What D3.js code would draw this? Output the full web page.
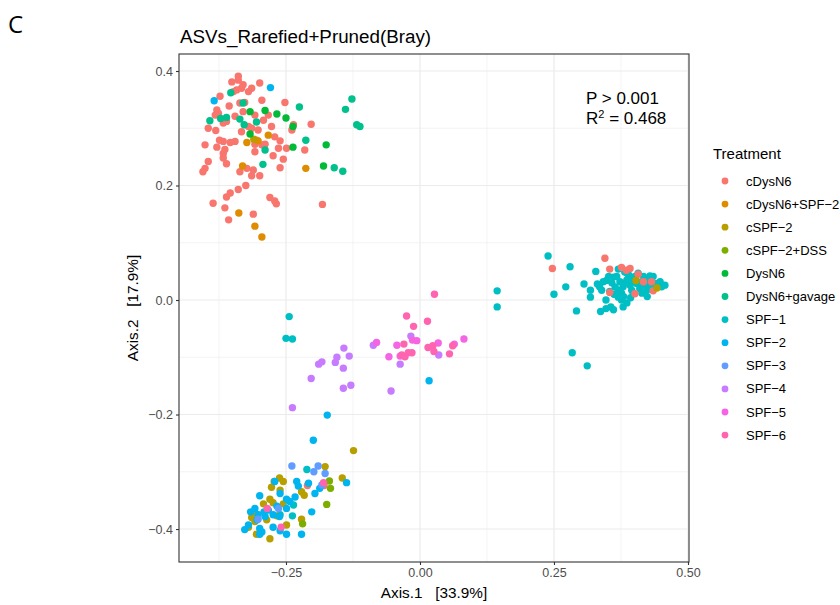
<!DOCTYPE html>
<html>
<head>
<meta charset="utf-8">
<script src="https://cdn.jsdelivr.net/npm/d3@7"></script>
<style>
  body { margin: 0; background: #fff; }
  svg text { font-family: "Liberation Sans", Arial, sans-serif; white-space: pre; }
</style>
</head>
<body>
<svg id="chart" width="840" height="605"></svg>
<script>
// PCoA ordination (Bray-Curtis) of rarefied + pruned ASVs, coloured by treatment
const treatments = ["cDysN6", "cDysN6+SPF\u22122", "cSPF\u22122", "cSPF\u22122+DSS", "DysN6", "DysN6+gavage",
                    "SPF\u22121", "SPF\u22122", "SPF\u22123", "SPF\u22124", "SPF\u22125", "SPF\u22126"];
const colors = ["#F8766D", "#DE8C00", "#B79F00", "#7CAE00", "#00BA38", "#00C08B",
                "#00BFC4", "#00B4F0", "#619CFF", "#C77CFF", "#F564E3", "#FF64B0"];

const xTicks = [-0.25, 0.00, 0.25, 0.50];
const yTicks = [-0.4, -0.2, 0.0, 0.2, 0.4];

// [Axis.1, Axis.2] per sample
const cDysN6 = [
  [-0.339,0.391],[-0.351,0.381],[-0.339,0.384],[-0.330,0.376],[-0.333,0.370],[-0.342,0.367],[-0.348,0.364],
  [-0.314,0.370],[-0.320,0.364],[-0.299,0.379],[-0.373,0.356],[-0.356,0.339],[-0.336,0.344],[-0.327,0.345],
  [-0.379,0.332],[-0.376,0.326],[-0.382,0.323],[-0.330,0.329],[-0.308,0.323],[-0.295,0.349],[-0.252,0.345],
  [-0.345,0.321],[-0.361,0.312],[-0.367,0.309],[-0.395,0.300],[-0.381,0.296],[-0.320,0.303],[-0.333,0.294],
  [-0.314,0.300],[-0.292,0.314],[-0.283,0.323],[-0.277,0.303],[-0.302,0.297],[-0.236,0.306],[-0.239,0.297],
  [-0.203,0.307],[-0.345,0.277],[-0.354,0.275],[-0.367,0.277],[-0.374,0.279],[-0.401,0.271],[-0.379,0.267],
  [-0.364,0.263],[-0.295,0.271],[-0.271,0.285],[-0.261,0.278],[-0.289,0.272],[-0.308,0.272],[-0.264,0.265],
  [-0.249,0.265],[-0.215,0.262],[-0.308,0.259],[-0.274,0.252],[-0.255,0.246],[-0.367,0.256],[-0.367,0.248],
  [-0.361,0.238],[-0.395,0.242],[-0.401,0.230],[-0.405,0.224],[-0.323,0.230],[-0.336,0.224],[-0.311,0.227],
  [-0.314,0.217],[-0.299,0.217],[-0.261,0.231],[-0.325,0.200],[-0.339,0.193],[-0.354,0.187],[-0.361,0.180],
  [-0.280,0.179],[-0.271,0.173],[-0.268,0.168],[-0.386,0.169],[-0.364,0.161],[-0.182,0.167],[-0.305,0.279],
  [-0.357,0.140],[-0.311,0.150],
  [0.345,0.073],[0.247,0.055],[0.354,0.054],[0.376,0.057],[0.392,0.055],[0.407,0.045],[0.417,0.032],
  [0.432,0.032],[0.354,0.013],[0.401,0.011],[0.435,0.016],[0.385,0.052],
  [-0.210,-0.324],[-0.179,-0.324]
];
const cDysN6_SPF2 = [
  [-0.283,0.288],[-0.302,0.278],[-0.323,0.275],[-0.331,0.234],[-0.213,0.230],[-0.338,0.152],
  [-0.308,0.129],[-0.295,0.110]
];
const cSPF2 = [
  [-0.310,0.281],[0.403,0.034],[0.442,0.021],
  [-0.124,-0.263],[-0.177,-0.291],[-0.145,-0.311],[-0.262,-0.311],[-0.272,-0.317],[-0.255,-0.317],
  [-0.277,-0.327],[-0.261,-0.332],[-0.221,-0.335],[-0.216,-0.341],[-0.280,-0.348],[-0.292,-0.356],
  [-0.274,-0.354],[-0.255,-0.356],[-0.305,-0.374],[-0.314,-0.380],[-0.308,-0.387],[-0.286,-0.384],
  [-0.267,-0.377],[-0.320,-0.397],[-0.305,-0.409],[-0.280,-0.417],[-0.249,-0.393],[-0.221,-0.383]
];
const cSPF2_DSS = [
  [-0.169,-0.316],[-0.167,-0.329],[-0.174,-0.357],[-0.219,-0.391]
];
const DysN6 = [
  [-0.317,0.329],[-0.289,0.331],[-0.267,0.325],[-0.250,0.318],[-0.237,0.303],[-0.317,0.290],
  [-0.237,0.267],[-0.175,0.271],[-0.180,0.234]
];
const DysN6_gavage = [
  [-0.353,0.362],[-0.330,0.344],[-0.392,0.313],[-0.372,0.317],[-0.361,0.319],[-0.336,0.316],
  [-0.328,0.306],[-0.305,0.311],[-0.289,0.262],[-0.293,0.237],[-0.225,0.337],[-0.213,0.279],
  [-0.160,0.231],[-0.144,0.225],[-0.127,0.351],[-0.139,0.333],[-0.118,0.306],[-0.112,0.303]
];
const SPF1 = [
  [-0.244,-0.029],[-0.250,-0.067],[-0.238,-0.068],[0.144,0.016],[0.144,-0.012],
  [0.239,0.077],[0.280,0.058],[0.250,0.010],[0.272,0.023],[0.328,0.050],[0.306,0.028],[0.292,-0.019],
  [0.284,-0.092],[0.312,-0.115],[0.318,0.017],[0.318,0.005],[0.347,0.000],[0.337,-0.020],[0.347,-0.015],
  [0.361,-0.017],[0.356,-0.012],[0.379,-0.012],[0.386,-0.005],[0.335,0.023],[0.348,0.034],[0.370,0.054],
  [0.386,0.047],[0.424,0.006],[0.457,0.026],
  [0.367,0.041],[0.373,0.032],[0.379,0.023],[0.370,0.017],[0.376,0.012],[0.386,0.035],[0.392,0.026],
  [0.395,0.017],[0.401,0.041],[0.404,0.029],[0.410,0.020],[0.417,0.041],[0.423,0.035],[0.429,0.026],
  [0.435,0.041],[0.442,0.029],[0.448,0.032],[0.423,0.017],[0.414,0.012],[0.398,0.012],[0.389,0.044],
  [0.358,0.030],[0.364,0.023],[0.342,0.032],[0.339,0.017],[0.354,0.015],[0.407,0.047],[0.429,0.042],
  [0.451,0.023],[0.382,0.049],[0.376,0.000],[0.370,0.005],
  [0.361,0.040],[0.383,0.030],[0.397,0.036],[0.411,0.031],[0.420,0.026],[0.437,0.023],[0.362,0.010],
  [0.380,0.006],[0.393,0.004],[0.331,0.028],[0.352,0.041],
  [-0.211,-0.296],[-0.236,-0.358],[-0.238,-0.377],[-0.261,-0.375]
];
const SPF2 = [
  [-0.279,0.371],[-0.384,0.348],[-0.173,-0.201],[0.017,-0.141],
  [-0.199,-0.245],[-0.230,-0.317],[-0.208,-0.320],[-0.227,-0.325],[-0.187,-0.329],[-0.196,-0.338],
  [-0.233,-0.344],[-0.243,-0.352],[-0.299,-0.342],[-0.271,-0.317],[-0.261,-0.338],[-0.249,-0.348],
  [-0.267,-0.360],[-0.249,-0.364],[-0.283,-0.367],[-0.291,-0.370],[-0.316,-0.370],[-0.308,-0.364],
  [-0.302,-0.375],[-0.289,-0.378],[-0.262,-0.378],[-0.274,-0.375],[-0.320,-0.393],[-0.327,-0.401],
  [-0.299,-0.399],[-0.295,-0.405],[-0.274,-0.397],[-0.261,-0.403],[-0.249,-0.409],[-0.299,-0.409],
  [-0.221,-0.409],[-0.202,-0.370],[-0.137,-0.319],[-0.304,-0.384]
];
const SPF3 = [
  [-0.239,-0.290],[-0.198,-0.300],[-0.190,-0.290],[-0.177,-0.303],[-0.183,-0.323],[-0.264,-0.364],[-0.302,-0.383]
];
const SPF4 = [
  [-0.142,-0.084],[-0.155,-0.100],[-0.132,-0.098],[-0.183,-0.108],[-0.189,-0.112],[-0.158,-0.109],
  [-0.143,-0.119],[-0.203,-0.137],[-0.143,-0.154],[-0.129,-0.149],[-0.238,-0.188],[-0.087,-0.079],
  [-0.054,-0.159],[-0.037,-0.112],[-0.017,-0.063],[0.035,-0.096]
];
const SPF5 = [
  [-0.081,-0.074],[-0.058,-0.099],[-0.043,-0.079],[0.034,-0.075],[0.082,-0.068],[0.064,-0.077],
  [-0.014,-0.070],[-0.006,-0.071],[-0.037,-0.098]
];
const SPF6 = [
  [0.027,0.010],[-0.025,-0.028],[-0.012,-0.046],[0.014,-0.037],[-0.030,-0.077],[0.015,-0.083],
  [0.024,-0.080],[0.026,-0.090],[-0.034,-0.096],[-0.028,-0.099],[-0.022,-0.092],[-0.015,-0.092],
  [0.055,-0.094],[0.061,-0.080],
  [-0.285,-0.364],[-0.259,-0.397],[-0.180,-0.319]
];

const groups = [cDysN6, cDysN6_SPF2, cSPF2, cSPF2_DSS, DysN6, DysN6_gavage, SPF1, SPF2, SPF3, SPF4, SPF5, SPF6];
// SPF-1 goes down first so the other treatments stay visible inside its dense cluster
const drawOrder = [6, 0, 1, 2, 3, 4, 5, 7, 8, 9, 10, 11];

const svg = d3.select("#chart");
const panel = { left: 179, right: 689, top: 54, bottom: 562 };

const x = d3.scaleLinear().domain([-0.4496, 0.5019]).range([panel.left, panel.right]);
const y = d3.scaleLinear().domain([-0.4576, 0.4297]).range([panel.bottom, panel.top]);

// panel letter and title
svg.append("text").attr("x", 8).attr("y", 33).attr("font-size", 24)
  .style("font-family", "'Open Sans', 'DejaVu Sans', sans-serif").attr("fill", "#000").text("C");
svg.append("text").attr("x", 180).attr("y", 43).attr("font-size", 18.8).attr("fill", "#000")
  .text("ASVs_Rarefied+Pruned(Bray)");

// grid: minor then major
const minorX = [-0.375, -0.125, 0.125, 0.375];
const minorY = [-0.3, -0.1, 0.1, 0.3];
const grid = svg.append("g");
grid.selectAll(".mx").data(minorX).join("line")
  .attr("x1", d => x(d)).attr("x2", d => x(d)).attr("y1", panel.top).attr("y2", panel.bottom)
  .attr("stroke", "#EBEBEB").attr("stroke-width", 0.6);
grid.selectAll(".my").data(minorY).join("line")
  .attr("y1", d => y(d)).attr("y2", d => y(d)).attr("x1", panel.left).attr("x2", panel.right)
  .attr("stroke", "#EBEBEB").attr("stroke-width", 0.6);
grid.selectAll(".Mx").data(xTicks).join("line")
  .attr("x1", d => x(d)).attr("x2", d => x(d)).attr("y1", panel.top).attr("y2", panel.bottom)
  .attr("stroke", "#EBEBEB").attr("stroke-width", 1.2);
grid.selectAll(".My").data(yTicks).join("line")
  .attr("y1", d => y(d)).attr("y2", d => y(d)).attr("x1", panel.left).attr("x2", panel.right)
  .attr("stroke", "#EBEBEB").attr("stroke-width", 1.2);

// points
const pts = svg.append("g");
drawOrder.forEach(gi => {
  pts.selectAll(null).data(groups[gi]).join("circle")
    .attr("cx", d => x(d[0])).attr("cy", d => y(d[1])).attr("r", 3.7)
    .attr("fill", colors[gi]);
});

// panel border
svg.append("rect").attr("x", panel.left).attr("y", panel.top)
  .attr("width", panel.right - panel.left).attr("height", panel.bottom - panel.top)
  .attr("fill", "none").attr("stroke", "#333333").attr("stroke-width", 1.1);

// axes
const fmtX = d => d3.format(".2f")(d).replace("-", "\u2212");
const fmtY = d => d3.format(".1f")(d).replace("-", "\u2212");
const xAxis = svg.append("g").attr("transform", `translate(0,${panel.bottom})`)
  .call(d3.axisBottom(x).tickValues(xTicks).tickFormat(fmtX).tickSize(3).tickPadding(3));
const yAxis = svg.append("g").attr("transform", `translate(${panel.left},0)`)
  .call(d3.axisLeft(y).tickValues(yTicks).tickFormat(fmtY).tickSize(3).tickPadding(3));
[xAxis, yAxis].forEach(a => {
  a.select(".domain").remove();
  a.selectAll(".tick line").attr("stroke", "#333333").attr("stroke-width", 1.1);
  a.selectAll(".tick text").attr("fill", "#4D4D4D").attr("font-size", 12.5)
    .style("font-family", "'Liberation Sans', Arial, sans-serif");
});

svg.append("text").attr("x", (panel.left + panel.right) / 2).attr("y", 598)
  .attr("text-anchor", "middle").attr("font-size", 15.3).attr("fill", "#000")
  .text("Axis.1   [33.9%]");
svg.append("text").attr("transform", `translate(138,${(panel.top + panel.bottom) / 2}) rotate(-90)`)
  .attr("text-anchor", "middle").attr("font-size", 15.3).attr("fill", "#000")
  .text("Axis.2   [17.9%]");

// PERMANOVA annotation
svg.append("text").attr("x", 586).attr("y", 104).attr("font-size", 17).attr("fill", "#000").text("P > 0.001");
const r2 = svg.append("text").attr("x", 586).attr("y", 124).attr("font-size", 17).attr("fill", "#000");
r2.append("tspan").text("R");
r2.append("tspan").attr("font-size", 11).attr("dy", -6).text("2");
r2.append("tspan").attr("dy", 6).text(" = 0.468");

// legend
const legend = svg.append("g");
legend.append("text").attr("x", 713).attr("y", 159).attr("font-size", 15).attr("fill", "#000").text("Treatment");
const items = legend.selectAll(".item").data(treatments).join("g")
  .attr("transform", (d, i) => `translate(0,${181 + i * 23.1})`);
items.append("circle").attr("cx", 725).attr("cy", 0).attr("r", 3.4).attr("fill", (d, i) => colors[i]);
items.append("text").attr("x", 746).attr("y", 4.5).attr("font-size", 13).attr("fill", "#000").text(d => d);
</script>
</body>
</html>
